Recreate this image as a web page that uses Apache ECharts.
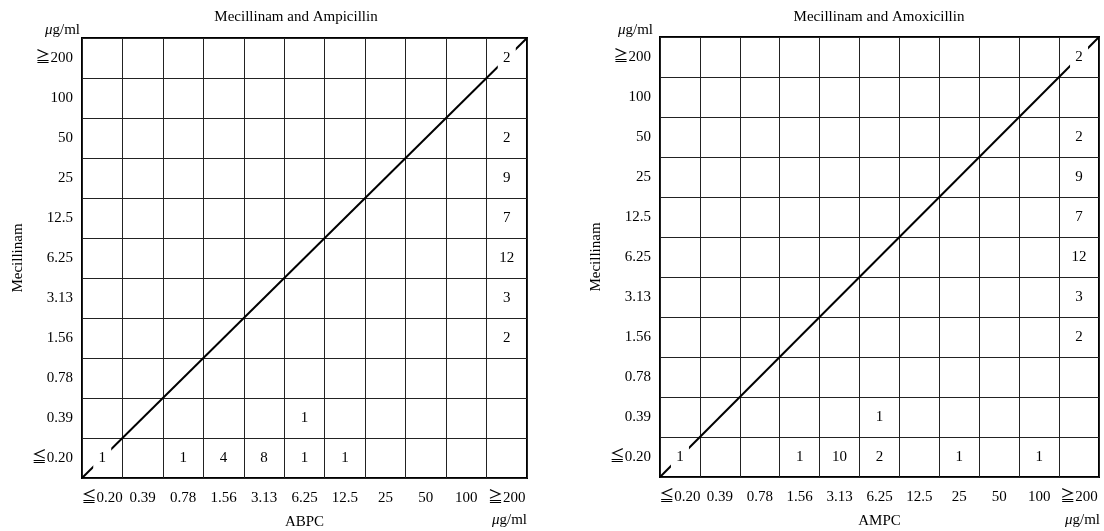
<!DOCTYPE html>
<html>
<head>
<meta charset="utf-8">
<script src="https://cdn.jsdelivr.net/npm/echarts@6/dist/echarts.min.js"></script>
<style>
  html, body { margin: 0; padding: 0; background: #fff; }
  #chart { width: 1104px; height: 531px; }
</style>
</head>
<body>
<div id="chart"></div>
<script>
// MIC categories, bottom->top on y and left->right on x
const micCats = ['≦0.20', '0.39', '0.78', '1.56', '3.13', '6.25', '12.5', '25', '50', '100', '≧200'];

// [x index, y index (Mecillinam), number of strains]
const ampicillinCounts = [
  [0, 0, 1], [2, 0, 1], [3, 0, 4], [4, 0, 8], [5, 0, 1], [6, 0, 1],
  [5, 1, 1],
  [10, 3, 2], [10, 4, 3], [10, 5, 12], [10, 6, 7], [10, 7, 9], [10, 8, 2], [10, 10, 2]
];
const amoxicillinCounts = [
  [0, 0, 1], [3, 0, 1], [4, 0, 10], [5, 0, 2], [7, 0, 1], [9, 0, 1],
  [5, 1, 1],
  [10, 3, 2], [10, 4, 3], [10, 5, 12], [10, 6, 7], [10, 7, 9], [10, 8, 2], [10, 10, 2]
];

// equal-MIC diagonal, in fraction of the plot
const diagonal = [[0, 0], [1, 1]];

const FONT = "'Liberation Serif', 'DejaVu Serif', 'Noto Sans CJK JP', serif";
const ink = '#000';

const grids = [
  { left: 82, top: 38, width: 445, height: 440 },
  { left: 660, top: 37, width: 439, height: 440 }
];

function catAxis(gridIndex, isX, name) {
  const ax = {
    type: 'category',
    gridIndex: gridIndex,
    data: micCats,
    boundaryGap: true,
    axisLine: { show: false },
    axisTick: { show: false },
    splitLine: { show: true, lineStyle: { color: '#222', width: 1 } },
    axisLabel: {
      color: ink, fontFamily: FONT, fontSize: 15,
      margin: isX ? 13 : 9, interval: 0
    },
    name: name,
    nameLocation: 'middle',
    nameTextStyle: { color: ink, fontFamily: FONT, fontSize: 15 }
  };
  if (isX) {
    ax.nameGap = 37;
  } else {
    ax.nameGap = 56;
    ax.nameRotate = 90;
  }
  return ax;
}

function hiddenAxis(gridIndex) {
  return { type: 'value', gridIndex: gridIndex, min: 0, max: 1, show: false };
}

// white box behind each count breaks the diagonal where it crosses a number
function countSeries(idx, data) {
  return {
    type: 'scatter',
    xAxisIndex: idx * 2,
    yAxisIndex: idx * 2,
    data: data,
    symbol: 'rect',
    symbolSize: [18, 22],
    itemStyle: { color: '#fff', opacity: 1 },
    z: 5,
    silent: true,
    label: {
      show: true,
      position: 'inside',
      formatter: p => p.value[2],
      color: ink,
      fontFamily: FONT,
      fontSize: 15
    }
  };
}

function diagSeries(idx) {
  return {
    type: 'line',
    xAxisIndex: idx * 2 + 1,
    yAxisIndex: idx * 2 + 1,
    data: diagonal,
    symbol: 'none',
    lineStyle: { color: '#000', width: 2 },
    z: 3,
    silent: true
  };
}

function unitText(x, y) {
  return {
    type: 'text',
    x: x, y: y,
    z: 10,
    style: {
      text: '{i|μ}g/ml',
      rich: { i: { fontStyle: 'italic', fontFamily: FONT, fontSize: 15, fill: ink } },
      fontFamily: FONT, fontSize: 15, fill: ink,
      align: 'right', verticalAlign: 'middle'
    }
  };
}

function titleText(x, text) {
  return {
    type: 'text',
    x: x, y: 17,
    z: 10,
    style: {
      text: text, fontFamily: FONT, fontSize: 15, fill: ink,
      align: 'center', verticalAlign: 'middle'
    }
  };
}

const chart = echarts.init(document.getElementById('chart'));
chart.setOption({
  backgroundColor: '#fff',
  animation: false,
  grid: grids.map(g => Object.assign({
    show: true, borderColor: '#000', borderWidth: 2, backgroundColor: '#fff',
    containLabel: false, outerBoundsMode: 'none'
  }, g)),
  xAxis: [
    catAxis(0, true, 'ABPC'), hiddenAxis(0),
    catAxis(1, true, 'AMPC'), hiddenAxis(1)
  ],
  yAxis: [
    catAxis(0, false, 'Mecillinam'), hiddenAxis(0),
    catAxis(1, false, 'Mecillinam'), hiddenAxis(1)
  ],
  series: [
    diagSeries(0), countSeries(0, ampicillinCounts),
    diagSeries(1), countSeries(1, amoxicillinCounts)
  ],
  graphic: [
    titleText(296, 'Mecillinam and Ampicillin'),
    titleText(879, 'Mecillinam and Amoxicillin'),
    unitText(80, 30), unitText(527, 520),
    unitText(653, 30), unitText(1100, 520)
  ]
});
</script>
</body>
</html>
